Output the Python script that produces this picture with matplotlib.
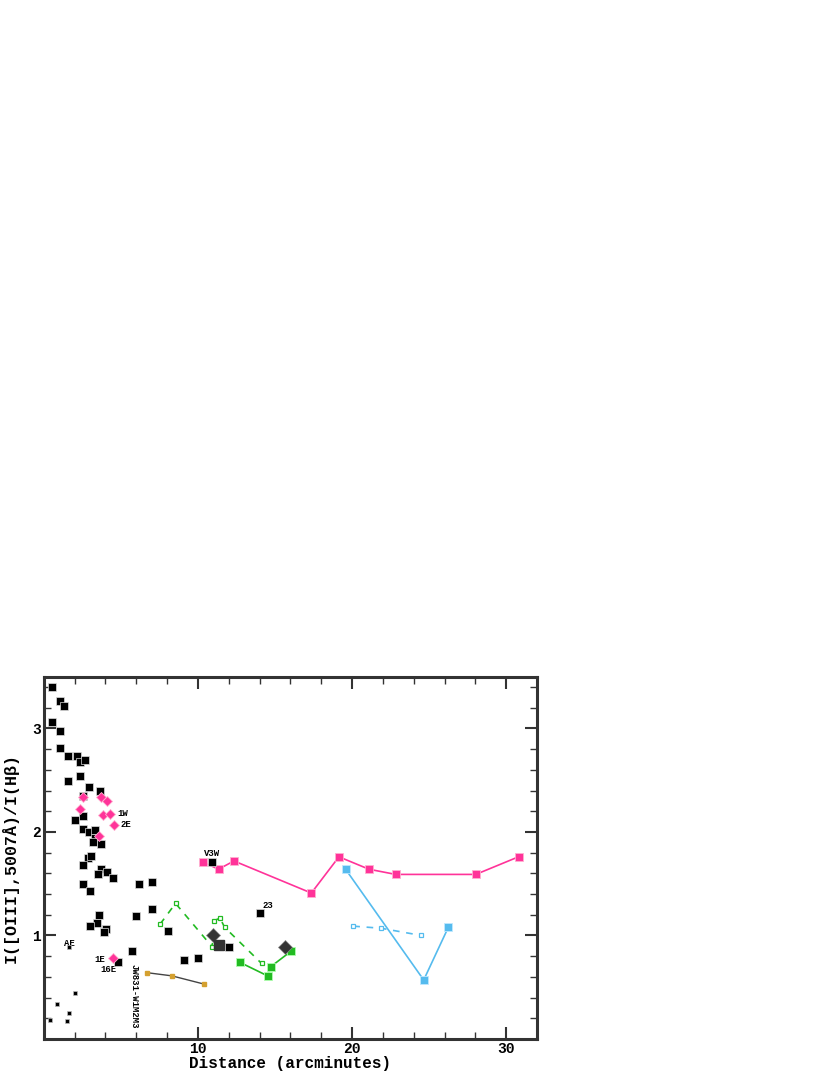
#!/usr/bin/python3

import matplotlib
matplotlib.use("Agg")
import matplotlib.pyplot as plt
from matplotlib.ticker import MultipleLocator

# black field points (big squares)
blk_x = [0.52, 1.04, 1.32, 0.52, 1.04, 1.04, 1.56, 2.14, 2.36, 2.66, 2.34,
         1.56, 2.94, 3.64, 2.55, 2.55, 2.05, 2.55, 2.94, 3.35, 3.33, 3.22,
         3.74, 2.85, 3.05, 2.55, 3.74, 3.51, 4.13, 4.52, 6.21, 7.01, 2.55,
         3.01, 7.01, 3.61, 6.01, 3.44, 3.01, 4.05, 3.94, 8.03, 5.73, 4.82,
         10.93, 14.0, 9.11, 10.0, 12.01]
blk_y = [3.40, 3.27, 3.22, 3.06, 2.98, 2.81, 2.73, 2.73, 2.68, 2.70, 2.54,
         2.49, 2.43, 2.40, 2.35, 2.15, 2.12, 2.03, 2.00, 2.02, 1.94, 1.90,
         1.88, 1.75, 1.77, 1.68, 1.64, 1.59, 1.61, 1.56, 1.50, 1.52, 1.50,
         1.43, 1.26, 1.20, 1.19, 1.12, 1.09, 1.06, 1.03, 1.04, 0.85, 0.74,
         1.71, 1.22, 0.76, 0.78, 0.89]

# small black squares
sml_x = [1.64, 2.01, 0.84, 1.66, 0.41, 1.53]
sml_y = [0.89, 0.44, 0.34, 0.25, 0.18, 0.17]

# pink diamonds
pd_x = [2.53, 3.72, 4.13, 2.34, 3.83, 4.32, 4.54, 3.61, 4.52]
pd_y = [2.34, 2.34, 2.30, 2.22, 2.16, 2.17, 2.07, 1.96, 0.78]

# dark diamonds and dark square
dd_x = [11.01, 15.62]
dd_y = [1.00, 0.89]
dsq_x = [11.40]
dsq_y = [0.91]

# pink solid track
pk_x = [10.32, 11.34, 12.34, 17.36, 19.15, 21.10, 22.83, 28.03, 30.80]
pk_y = [1.71, 1.64, 1.72, 1.41, 1.76, 1.64, 1.59, 1.59, 1.76]

# blue solid track
bl_x = [19.58, 24.65, 26.25]
bl_y = [1.64, 0.57, 1.08]

# blue dashed track
bd_x = [20.08, 21.88, 24.50]
bd_y = [1.09, 1.07, 1.00]

# green solid track
gr_x = [12.73, 14.52, 14.74, 16.06]
gr_y = [0.74, 0.61, 0.70, 0.85]

# green dashed track
gd_x = [7.55, 8.55, 10.93, 11.04, 11.43, 11.73, 14.13]
gd_y = [1.11, 1.31, 0.89, 1.14, 1.17, 1.08, 0.73]

# gold track
au_x = [6.73, 8.31, 10.41]
au_y = [0.64, 0.61, 0.53]

labels = ["1W", "2E", "AE", "1E", "16E", "V3W", "23"]
label_x = [4.75, 4.95, 1.65, 3.65, 4.20, 10.95, 14.55]
label_y = [2.18, 2.07, 0.92, 0.77, 0.67, 1.79, 1.29]

x_ticks = [10, 20, 30]
y_ticks = [1, 2, 3]

PINK = "#ff3399"
BLUE = "#55bbee"
GREEN = "#22bb22"
MONO = "Liberation Mono"


def main():
    fig = plt.figure(figsize=(8.3, 10.75), dpi=100)
    ax = fig.add_axes([0.0527, 0.0335, 0.5943, 0.337])

    ax.plot(pk_x, pk_y, "-", color=PINK, lw=1.2, marker="s", ms=5.5,
            mec="#ffb0d0", mew=0.6, mfc=PINK, zorder=3)
    ax.plot(bl_x, bl_y, "-", color=BLUE, lw=1.2, marker="s", ms=6,
            mec="#c0e8ff", mew=0.6, mfc=BLUE, zorder=3)
    ax.plot(bd_x, bd_y, "--", color=BLUE, lw=1.2, marker="s", ms=3,
            mfc="white", mec=BLUE, mew=0.9, dashes=(4, 4), zorder=3)
    ax.plot(gr_x, gr_y, "-", color=GREEN, lw=1.2, marker="s", ms=6,
            mec="#b0ffb0", mew=0.6, mfc=GREEN, zorder=3)
    ax.plot(gd_x, gd_y, "--", color=GREEN, lw=1.2, marker="s", ms=3,
            mfc="white", mec=GREEN, mew=0.9, dashes=(4, 4), zorder=3)
    ax.plot(au_x, au_y, "-", color="#444444", lw=1.0, marker="s", ms=3,
            mfc="#d4a030", mec="#d4a030", zorder=3)

    ax.plot(blk_x, blk_y, "s", color="black", ms=6, mec="#dddddd",
            mew=0.5, zorder=4)
    ax.plot(sml_x, sml_y, "s", color="black", ms=3.5, mec="#bbbbbb",
            mew=0.5, zorder=4)
    ax.plot(pd_x, pd_y, "D", color=PINK, ms=5, mec="#ffb0d0", mew=0.6,
            zorder=4)
    ax.plot(dd_x, dd_y, "D", color="#333333", ms=7, mec="#888888",
            mew=0.5, zorder=4)
    ax.plot(dsq_x, dsq_y, "s", color="#333333", ms=7, zorder=4)

    for t, x, y in zip(labels, label_x, label_y):
        ax.text(x, y, t, fontsize=6.5, family=MONO, fontweight="bold",
                ha="left" if t in ("1W", "2E") else "center", va="center")
    ax.text(5.85, 0.72, "JW831-W1M2M3", rotation=-90, fontsize=6.5,
            family=MONO, fontweight="bold", ha="center", va="top")

    ax.set_xlim(0, 32)
    ax.set_ylim(0, 3.5)
    ax.set_xticks(x_ticks)
    ax.set_yticks(y_ticks)
    ax.xaxis.set_minor_locator(MultipleLocator(2))
    ax.yaxis.set_minor_locator(MultipleLocator(0.2))
    ax.tick_params(which="both", direction="in", top=True, right=True,
                   color="#333333")
    ax.tick_params(which="major", length=8.5, width=1.5, labelsize=10.5,
                   pad=2)
    ax.tick_params(which="minor", length=5, width=1.0)
    for lab in ax.get_xticklabels() + ax.get_yticklabels():
        lab.set_fontweight("bold")
        lab.set_family(MONO)
    for s in ax.spines.values():
        s.set_linewidth(2.2)
        s.set_color("#333333")

    ax.set_xlabel("Distance (arcminutes)", family=MONO, fontweight="bold",
                  fontsize=11.5, labelpad=0)
    ax.set_ylabel("I([OIII],5007Å)/I(Hβ)", family=MONO, fontweight="bold",
                  fontsize=12, labelpad=10)

    fig.savefig("out.png", dpi=100)


if __name__ == "__main__":
    main()
